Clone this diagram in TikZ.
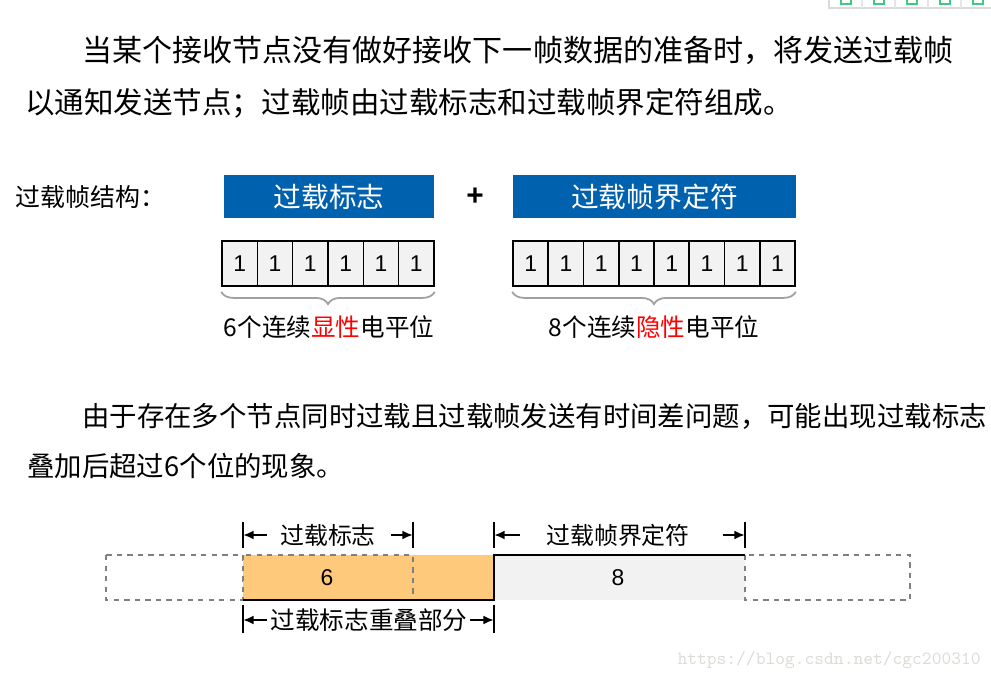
\documentclass[tikz,border=0pt]{standalone}
\usepackage{fontspec}
\setmainfont{Noto Sans CJK SC}
\newfontfamily\arial{Liberation Sans}
\usetikzlibrary{arrows.meta, decorations.pathreplacing, calc}
\definecolor{flagblue}{HTML}{0062AE}
\definecolor{cellgray}{HTML}{F2F2F2}
\definecolor{ovlorange}{HTML}{FFC97C}
\definecolor{ghostgray}{HTML}{7F7F7F}
\definecolor{bracegray}{HTML}{A0A0A0}
\definecolor{wmgray}{HTML}{DCDCD6}
\definecolor{uigreen}{HTML}{3CC98A}

\begin{document}
\begin{tikzpicture}[x=0.02cm,y=-0.02cm,
  para/.style={anchor=west, inner sep=0pt},
  flagbox/.style={fill=flagblue, text=white, minimum height=0.86cm, inner sep=0pt,
    font=\fontsize{15.8}{18}\selectfont},
  bitcell/.style={draw=black, line width=0.9pt, fill=cellgray, minimum width=0.706cm,
    minimum height=0.9cm, inner sep=0pt, font=\arial\fontsize{13}{15}\selectfont},
  flagbrace/.style={draw=bracegray, line width=1pt, decorate,
    decoration={brace, amplitude=7pt}},
  lbl/.style={inner sep=0pt, font=\fontsize{14}{16}\selectfont},
  ghost/.style={draw=ghostgray, dashed, line width=0.8pt},
  bar/.style={line width=1.6pt},
  dimarr/.style={line width=1.4pt, -{Latex[length=6pt,width=5pt]}}]

\useasboundingbox (0,0) rectangle (991,679);

% toolbar remains, top right
\draw[black!15, line width=0.8pt] (829,0) -- (829,8) -- (991,8);
\foreach \x in {862,895,928,961}
  \draw[black!10, line width=0.6pt] (\x,0) -- (\x,8);
\foreach \x in {846,879,912,945,978}
  \draw[uigreen, line width=0.8pt] (\x-5,0) -- (\x-5,4) -- (\x+5,4) -- (\x+5,0);

% text
\node[para, font=\fontsize{17.1}{20}\selectfont] (line1) at (82,50)
  {当某个接收节点没有做好接收下一帧数据的准备时，将发送过载帧};
\node[para, font=\fontsize{16.8}{20}\selectfont] (line2) at (25,103)
  {以通知发送节点；过载帧由过载标志和过载帧界定符组成。};
\node[para, font=\fontsize{15.6}{18}\selectfont] (line3) at (82,416)
  {由于存在多个节点同时过载且过载帧发送有时间差问题，可能出现过载标志};
\node[para, font=\fontsize{15.6}{18}\selectfont] (line4) at (27,466)
  {叠加后超过6个位的现象。};

% overload frame structure
\node[para, font=\fontsize{14.2}{16}\selectfont] (structlbl) at (15,197) {过载帧结构：};
\node[flagbox, minimum width=4.2cm] (flag) at (329,196.5) {过载标志};
\node[font=\arial\bfseries\fontsize{17}{18}\selectfont, inner sep=0pt] (plus) at (475,197) {+};
\node[flagbox, minimum width=5.66cm] (delim) at (654.5,196.5) {过载帧界定符};

\foreach \i in {0,...,5}
  \node[bitcell] (fa\i) at (239.67+35.33*\i,263.5) {1};
\foreach \i in {0,...,7}
  \node[bitcell] (de\i) at (530.6+35.25*\i,263.5) {1};

\draw[flagbrace] ($(fa5.south east)+(0,5)$) -- ($(fa0.south west)+(0,5)$);
\draw[flagbrace] ($(de7.south east)+(0,5)$) -- ($(de0.south west)+(0,5)$);

\node[lbl] (domlbl) at (329,327) {6个连续\textcolor{red}{显性}电平位};
\node[lbl] (reclbl) at (654,327) {8个连续\textcolor{red}{隐性}电平位};

% overlapping flags
\draw[ghost] (106,555) rectangle (243,600);
\fill[ovlorange] (243,555) rectangle (494,600);
\draw[ghost] (243,555) rectangle (413,600);
\fill[cellgray] (494,555) rectangle (745,600);
\draw[ghost] (745,555) rectangle (910,600);
\draw[line width=1.6pt] (243,600) -- (494,600) -- (494,555) -- (745,555);
\node[font=\arial\fontsize{13}{15}\selectfont] (six) at (327,578) {6};
\node[font=\arial\fontsize{13}{15}\selectfont] (eight) at (618,578) {8};

% dimension marks
\foreach \x/\n in {243/a,413/b,494/c,745/d} {
  \draw[bar] (\x,522) -- (\x,548);
  \coordinate (t\n) at (\x,535);
}
\foreach \x/\n in {243/a,494/c} {
  \draw[bar] (\x,605) -- (\x,633);
  \coordinate (u\n) at (\x,620);
}
\node[lbl, font=\fontsize{13.6}{16}\selectfont] (flagdim) at (328,535) {过载标志};
\node[lbl, font=\fontsize{13.6}{16}\selectfont] (delimdim) at (618,535) {过载帧界定符};
\node[lbl] (ovldim) at (369,620) {过载标志重叠部分};

\draw[dimarr] ($(ta)+(24,0)$) -- (ta);
\draw[dimarr] ($(tb)+(-22,0)$) -- (tb);
\draw[dimarr] ($(tc)+(26,0)$) -- (tc);
\draw[dimarr] ($(td)+(-22,0)$) -- (td);
\draw[dimarr] ($(ua)+(24,0)$) -- (ua);
\draw[dimarr] ($(uc)+(-24,0)$) -- (uc);

% watermark
\node[anchor=east, inner sep=0pt, text=wmgray, font=\ttfamily\fontsize{10.6}{12}\selectfont]
  (wm) at (981,660) {https://blog.csdn.net/cgc200310};
\end{tikzpicture}
\end{document}
